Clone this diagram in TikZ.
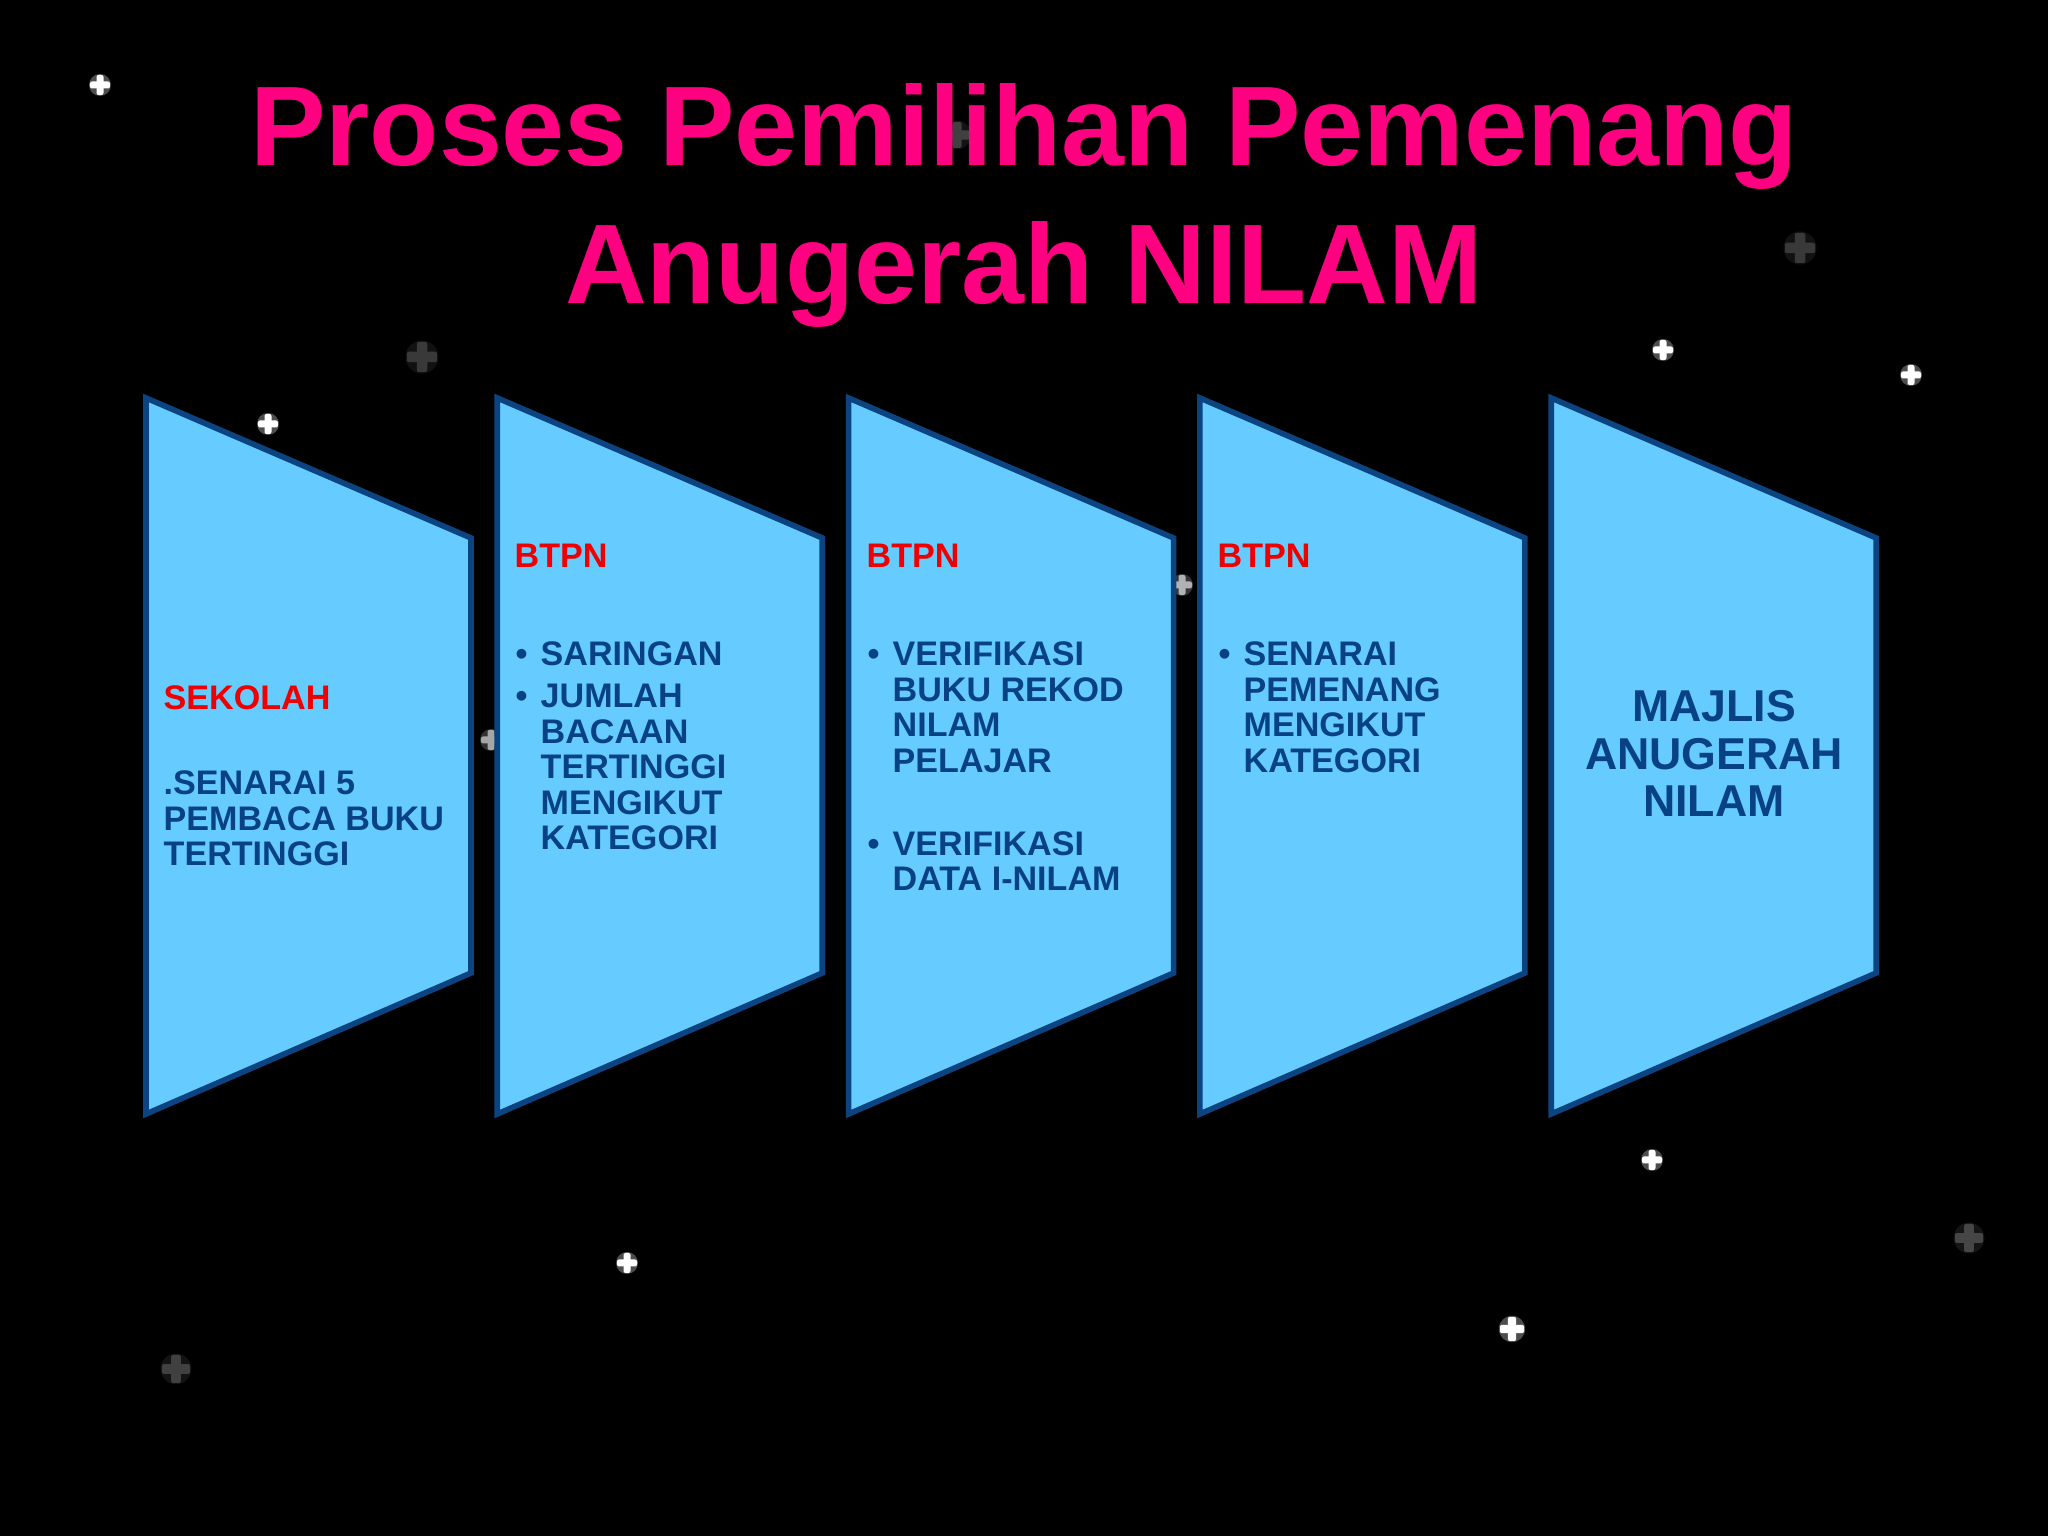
\documentclass[tikz,border=0pt]{standalone}
\usepackage{fontspec}
\setmainfont{Liberation Sans}
\usetikzlibrary{calc}

\definecolor{titlepink}{RGB}{255,0,128}
\definecolor{boxfill}{RGB}{102,204,255}
\definecolor{boxline}{RGB}{12,68,130}
\definecolor{boxtext}{RGB}{8,66,132}
\definecolor{headred}{RGB}{238,0,0}

\begin{document}
\begin{tikzpicture}[
  funnel/.style={fill=boxfill, draw=boxline, line width=1.6pt, line join=miter},
  head label/.style={inner sep=0pt, anchor=base west, text=headred, font=\fontsize{9.7}{10.1}\selectfont\bfseries},
  item label/.style={inner sep=0pt, anchor=base west, text=boxtext, font=\fontsize{9.7}{10.1}\selectfont\bfseries},
  big label/.style={inner sep=0pt, anchor=base, text=boxtext, font=\fontsize{12.7}{13.4}\selectfont\bfseries},
  title text/.style={inner sep=0pt, anchor=base, text=titlepink, font=\fontsize{32.2}{39}\selectfont\bfseries}
]

\useasboundingbox (0,0) rectangle (20.48,15.36);
\fill[black] (0,0) rectangle (20.48,15.36);

% stars
\foreach \x/\y/\s/\c in {1.00/14.51/1/white, 2.68/11.12/1/white, 16.63/11.86/1/white,
    19.11/11.61/1/white, 16.52/3.76/1/white, 6.27/2.73/1/white, 15.12/2.07/1.2/white,
    9.57/14.01/1.3/gray!50!black, 18.00/12.88/1.5/gray!45!black, 4.22/11.79/1.5/gray!45!black,
    19.69/2.98/1.4/gray!55!black, 1.76/1.67/1.4/gray!50!black,
    4.91/7.96/1/gray!70, 11.82/9.51/1/gray!60} {
  \fill[\c, opacity=0.3] (\x,\y) circle (0.11*\s);
  \fill[\c, rounded corners=0.02cm] (\x,\y) ++(-0.1*\s,-0.035*\s) rectangle ++(0.2*\s,0.07*\s);
  \fill[\c, rounded corners=0.02cm] (\x,\y) ++(-0.035*\s,-0.1*\s) rectangle ++(0.07*\s,0.2*\s);
}

% title
\node[title text] (title) at (10.24,13.70) {%
  \begin{tabular}[t]{@{}c@{}}Proses Pemilihan Pemenang\\ Anugerah NILAM\end{tabular}};

% funnel shapes
\foreach \i in {1,...,5} {
  \coordinate (F\i-tl) at ({1.46+3.513*(\i-1)}, 11.38);
  \coordinate (F\i-tr) at ({4.71+3.513*(\i-1)}, 9.98);
  \coordinate (F\i-br) at ({4.71+3.513*(\i-1)}, 5.63);
  \coordinate (F\i-bl) at ({1.46+3.513*(\i-1)}, 4.22);
  \draw[funnel] (F\i-tl) -- (F\i-tr) -- (F\i-br) -- (F\i-bl) -- cycle;
}

% box 1
\node[head label] (sekolah) at (1.63,8.26) {SEKOLAH};
\node[item label] (senarai) at (1.63,7.41) {%
  \begin{tabular}[t]{@{}l@{}}.SENARAI 5\\ PEMBACA BUKU\\ TERTINGGI\end{tabular}};

% box 2
\node[head label] (btpn1) at (5.14,9.68) {BTPN};
\node[item label] (saringan) at (5.15,8.70) {%
  \begin{tabular}[t]{@{}p{0.25cm}@{}l@{}}
  \textbullet & SARINGAN\\[1.8pt]
  \textbullet & JUMLAH\\
  & BACAAN\\
  & TERTINGGI\\
  & MENGIKUT\\
  & KATEGORI
  \end{tabular}};

% box 3
\node[head label] (btpn2) at (8.66,9.68) {BTPN};
\node[item label] (verifikasi) at (8.67,8.70) {%
  \begin{tabular}[t]{@{}p{0.25cm}@{}l@{}}
  \textbullet & VERIFIKASI\\
  & BUKU REKOD\\
  & NILAM\\
  & PELAJAR\\[13.5pt]
  \textbullet & VERIFIKASI\\
  & DATA I-NILAM
  \end{tabular}};

% box 4
\node[head label] (btpn3) at (12.17,9.68) {BTPN};
\node[item label] (pemenang) at (12.18,8.70) {%
  \begin{tabular}[t]{@{}p{0.25cm}@{}l@{}}
  \textbullet & SENARAI\\
  & PEMENANG\\
  & MENGIKUT\\
  & KATEGORI
  \end{tabular}};

% box 5
\node[big label] (majlis) at (17.14,8.14) {%
  \begin{tabular}[t]{@{}c@{}}MAJLIS\\ ANUGERAH\\ NILAM\end{tabular}};

\end{tikzpicture}
\end{document}
